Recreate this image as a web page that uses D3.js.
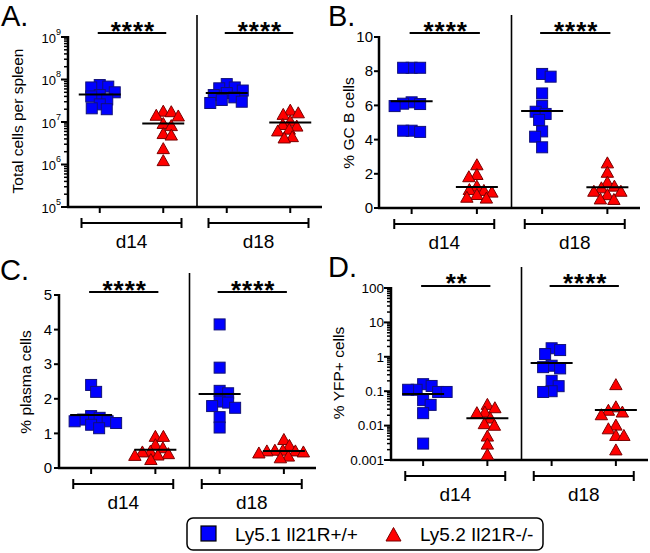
<!DOCTYPE html>
<html><head><meta charset="utf-8">
<script src="https://cdn.jsdelivr.net/npm/d3@7"></script>
<style>
body{margin:0;background:#fff}
svg{display:block}
text{font-family:"Liberation Sans",Arial,Helvetica,sans-serif;fill:#000}
</style>
</head><body>
<svg id="chart" width="650" height="553"></svg>
<script>
// ---------- DATA ----------
const groups = ["d14", "d18"];
const seriesNames = ["Ly5.1 Il21R+/+", "Ly5.2 Il21R-/-"];

// A: total cells per spleen
const cellsD14Wt = [7.4e7, 6.8e7, 6.5e7, 5.0e7, 4.3e7, 4.0e7, 3.4e7, 2.6e7, 2.0e7, 2.1e7];
const cellsD14Ko = [1.7e7, 1.35e7, 1.4e7, 1.75e7, 9.0e6, 8.0e6, 5.2e6, 4.8e6, 2.3e6, 1.2e6];
const cellsD18Wt = [7.8e7, 6.5e7, 6.2e7, 5.5e7, 4.8e7, 4.3e7, 3.8e7, 3.3e7, 3.0e7, 2.8e7];
const cellsD18Ko = [1.85e7, 1.6e7, 1.47e7, 1.02e7, 8.5e6, 7.8e6, 6.6e6, 6.0e6, 4.4e6, 4.1e6];

// B: % GC B cells
const gcD14Wt = [8.2, 8.2, 8.2, 6.18, 6.1, 6.08, 5.96, 4.52, 4.45, 4.52];
const gcD14Ko = [2.5, 1.93, 1.8, 1.25, 1.05, 1.0, 0.9, 0.76, 0.6, 0.55];
const gcD18Wt = [7.84, 7.68, 6.7, 5.96, 5.63, 5.5, 5.15, 4.48, 4.17, 3.55];
const gcD18Ko = [2.61, 2.06, 1.48, 1.25, 1.15, 0.95, 0.95, 0.75, 0.5, 0.47];

// C: % plasma cells
const pcD14Wt = [2.4, 2.2, 1.5, 1.45, 1.4, 1.35, 1.35, 1.3, 1.25, 1.15];
const pcD14Ko = [0.9, 0.9, 0.66, 0.57, 0.47, 0.45, 0.4, 0.36, 0.35, 0.23];
const pcD18Wt = [4.15, 2.9, 2.23, 2.16, 1.92, 1.89, 1.79, 1.74, 1.47, 1.17];
const pcD18Ko = [0.81, 0.64, 0.5, 0.5, 0.48, 0.48, 0.45, 0.42, 0.33, 0.28];

// D: % YFP+ cells
const yfpD14Wt = [0.16, 0.142, 0.11, 0.11, 0.095, 0.095, 0.055, 0.04, 0.023, 0.003];
const yfpD14Ko = [0.04, 0.032, 0.024, 0.023, 0.016, 0.011, 0.0099, 0.0048, 0.0028, 0.0014];
const yfpD18Wt = [1.77, 1.57, 1.2, 0.55, 0.5, 0.46, 0.2, 0.14, 0.1, 0.095];
const yfpD18Ko = [0.15, 0.034, 0.027, 0.024, 0.02, 0.01, 0.0078, 0.005, 0.005, 0.0019];

// tick values / labels
const ticksA = [1e5, 1e6, 1e7, 1e8, 1e9];
const ticksB = [0, 2, 4, 6, 8, 10];
const ticksC = [0, 1, 2, 3, 4, 5];
const ticksD = [0.001, 0.01, 0.1, 1, 10, 100];
const tickLabelsD = ["0.001", "0.01", "0.1", "1", "10", "100"];

// significance labels
const sigA = ["****", "****"];
const sigB = ["****", "****"];
const sigC = ["****", "****"];
const sigD = ["**", "****"];

const yTitles = ["Total cells per spleen", "% GC B cells", "% plasma cells", "% YFP+ cells"];
const panelLetters = ["A.", "B.", "C.", "D."];

// ---------- DRAW ----------
const svg = d3.select("#chart");
const BLUE = "#0000ff", BLUE_S = "#10107a", RED = "#ff0000", RED_S = "#7a0000";

const panels = [
  {letter: panelLetters[0], title: yTitles[0], sets: [cellsD14Wt, cellsD14Ko, cellsD18Wt, cellsD18Ko],
   log: true, domain: [1e5, 1e9], ticks: ticksA, sup: true, sig: sigA,
   x0: 68, x1: 322, yTop: 37, yBot: 207, divTop: 15, lx: 1, ly: 26, titleX: 17, titleY: 121,
   sigLineY: 33, starY: 25, gap: 7},
  {letter: panelLetters[1], title: yTitles[1], sets: [gcD14Wt, gcD14Ko, gcD18Wt, gcD18Ko],
   log: false, domain: [0, 10], ticks: ticksB, sig: sigB,
   x0: 379, x1: 640, yTop: 37, yBot: 208, divTop: 15, lx: 328, ly: 26, titleX: 348, titleY: 123,
   sigLineY: 33, starY: 25, gap: 6},
  {letter: panelLetters[2], title: yTitles[2], sets: [pcD14Wt, pcD14Ko, pcD18Wt, pcD18Ko],
   log: false, domain: [0, 5], ticks: ticksC, sig: sigC,
   x0: 59, x1: 316, yTop: 295, yBot: 468, divTop: 273, lx: 0, ly: 280, titleX: 25, titleY: 382,
   sigLineY: 292, starY: 284, gap: 7},
  {letter: panelLetters[3], title: yTitles[3], sets: [yfpD14Wt, yfpD14Ko, yfpD18Wt, yfpD18Ko],
   log: true, domain: [0.001, 100], ticks: ticksD, labels: tickLabelsD, sig: sigD,
   x0: 391, x1: 648, yTop: 288, yBot: 460, divTop: 267, lx: 328, ly: 277, titleX: 338, titleY: 373,
   sigLineY: 286, starY: 277, gap: 7}
];

function swarm(vals, yf, cx, d) {
  const pts = vals.map(v => ({v, y: yf(v)})).sort((a, b) => a.y - b.y);
  const placed = [];
  pts.forEach(p => {
    for (let off = 0; off < 80; off += 0.5) {
      const cands = off === 0 ? [0] : (placed.length % 2 ? [off, -off] : [-off, off]);
      let found = null;
      for (const o of cands) {
        if (placed.every(q => (q.dx - o) ** 2 + (q.y - p.y) ** 2 >= d * d)) { found = o; break; }
      }
      if (found !== null) { p.dx = found; break; }
    }
    p.x = cx + p.dx;
    placed.push(p);
  });
  return pts;
}

const keys = ["d14|wt", "d14|ko", "d18|wt", "d18|ko"];

panels.forEach(P => {
  const g = svg.append("g");
  const y = (P.log ? d3.scaleLog() : d3.scaleLinear()).domain(P.domain).range([P.yBot, P.yTop]);
  const x = d3.scalePoint().domain(keys).range([P.x0, P.x1]).padding(0.5);

  // panel letter
  g.append("text").attr("x", P.lx).attr("y", P.ly).attr("font-size", 29).text(P.letter);

  // y title
  g.append("text").attr("transform", `translate(${P.titleX},${P.titleY}) rotate(-90)`)
    .attr("text-anchor", "middle").attr("dominant-baseline", "central")
    .attr("font-size", 15.5).text(P.title);

  // y axis line
  g.append("line").attr("x1", P.x0).attr("x2", P.x0).attr("y1", P.yTop - 1).attr("y2", P.yBot)
    .attr("stroke", "#000").attr("stroke-width", 2.5);

  // y ticks
  if (P.log) {
    const minors = [];
    const lo = Math.round(Math.log10(P.domain[0])), hi = Math.round(Math.log10(P.domain[1]));
    for (let e = lo; e < hi; e++) for (let m = 2; m <= 9; m++) minors.push(m * Math.pow(10, e));
    g.selectAll(null).data(minors).enter().append("line")
      .attr("x1", P.x0 - 4).attr("x2", P.x0).attr("y1", d => y(d)).attr("y2", d => y(d))
      .attr("stroke", "#000").attr("stroke-width", 1.5);
  }
  g.selectAll(null).data(P.ticks).enter().append("line")
    .attr("x1", P.x0 - (P.log ? 7 : 5)).attr("x2", P.x0).attr("y1", d => y(d)).attr("y2", d => y(d))
    .attr("stroke", "#000").attr("stroke-width", 2);

  // tick labels
  P.ticks.forEach((t, i) => {
    const tx = g.append("text").attr("x", P.x0 - P.gap).attr("y", y(t))
      .attr("text-anchor", "end").attr("font-size", P.sup ? 13 : (P.labels ? 13.5 : 15))
      .attr("dy", "0.35em");
    if (P.sup) {
      const e = Math.round(Math.log10(t));
      tx.attr("dy", "0.45em");
      tx.append("tspan").text("10");
      tx.append("tspan").attr("font-size", 9).attr("dy", "-0.9em").text(e);
    } else if (P.labels) {
      tx.text(P.labels[i]);
    } else {
      tx.text(t);
    }
  });

  // x axis
  g.append("line").attr("x1", P.x0 - 1).attr("x2", P.x1).attr("y1", P.yBot).attr("y2", P.yBot)
    .attr("stroke", "#000").attr("stroke-width", 2.5);
  g.selectAll(null).data(keys).enter().append("line")
    .attr("x1", d => x(d)).attr("x2", d => x(d)).attr("y1", P.yBot).attr("y2", P.yBot + 6)
    .attr("stroke", "#000").attr("stroke-width", 2);

  // divider
  const divX = (x("d14|ko") + x("d18|wt")) / 2 + 2;
  g.append("line").attr("x1", divX).attr("x2", divX).attr("y1", P.divTop).attr("y2", P.yBot)
    .attr("stroke", "#000").attr("stroke-width", 1.6);

  // brackets + group labels
  groups.forEach((grp, gi) => {
    const c = (x(grp + "|wt") + x(grp + "|ko")) / 2;
    const by = P.yBot + 16;
    g.append("line").attr("x1", c - 50).attr("x2", c + 50).attr("y1", by).attr("y2", by)
      .attr("stroke", "#000").attr("stroke-width", 2);
    [c - 50, c + 50].forEach(ex => g.append("line").attr("x1", ex).attr("x2", ex)
      .attr("y1", by - 5).attr("y2", by + 5).attr("stroke", "#000").attr("stroke-width", 2));
    g.append("text").attr("x", c).attr("y", P.yBot + 41).attr("text-anchor", "middle")
      .attr("font-size", 19).text(grp);

    // significance
    const sx1 = x(grp + "|wt") - 2, sx2 = x(grp + "|ko") + 3;
    g.append("line").attr("x1", sx1).attr("x2", sx2).attr("y1", P.sigLineY).attr("y2", P.sigLineY)
      .attr("stroke", "#000").attr("stroke-width", 2);
    g.append("text").attr("x", (sx1 + sx2) / 2 + 1).attr("y", P.starY + 0.57 * 26)
      .attr("text-anchor", "middle").attr("font-size", 26).attr("font-weight", "bold")
      .attr("letter-spacing", 1).text(P.sig[gi]);
  });

  // points + mean lines
  keys.forEach((k, ki) => {
    const vals = P.sets[ki];
    const isWt = k.endsWith("wt");
    const pts = swarm(vals, y, x(k), isWt ? 8.5 : 8);
    const mean = d3.mean(vals);
    const mk = g.append("g");
    if (isWt) {
      mk.selectAll(null).data(pts).enter().append("rect")
        .attr("x", d => d.x - 5.5).attr("y", d => d.y - 5.5).attr("width", 11).attr("height", 11)
        .attr("fill", BLUE).attr("stroke", BLUE_S).attr("stroke-width", 1);
    } else {
      mk.selectAll(null).data(pts).enter().append("path")
        .attr("d", d => `M${d.x},${d.y - 6.5}L${d.x + 6.2},${d.y + 4.5}L${d.x - 6.2},${d.y + 4.5}Z`)
        .attr("fill", RED).attr("stroke", RED_S).attr("stroke-width", 1);
    }
    g.append("line").attr("x1", x(k) - 21).attr("x2", x(k) + 21)
      .attr("y1", y(mean)).attr("y2", y(mean)).attr("stroke", "#000").attr("stroke-width", 2);
  });
});

// ---------- LEGEND ----------
const lg = svg.append("g");
lg.append("rect").attr("x", 187).attr("y", 518).attr("width", 356).attr("height", 32).attr("rx", 6)
  .attr("fill", "#fff").attr("stroke", "#000").attr("stroke-width", 1.5);
lg.append("rect").attr("x", 201).attr("y", 526).attr("width", 15).attr("height", 15)
  .attr("fill", BLUE).attr("stroke", "#000").attr("stroke-width", 1.2);
lg.append("text").attr("x", 235).attr("y", 541).attr("font-size", 19).text(seriesNames[0]);
lg.append("path").attr("d", "M393.5,527.5L401,541L386,541Z")
  .attr("fill", RED).attr("stroke", RED_S).attr("stroke-width", 1);
lg.append("text").attr("x", 420).attr("y", 541).attr("font-size", 19).text(seriesNames[1]);
</script>
</body></html>
